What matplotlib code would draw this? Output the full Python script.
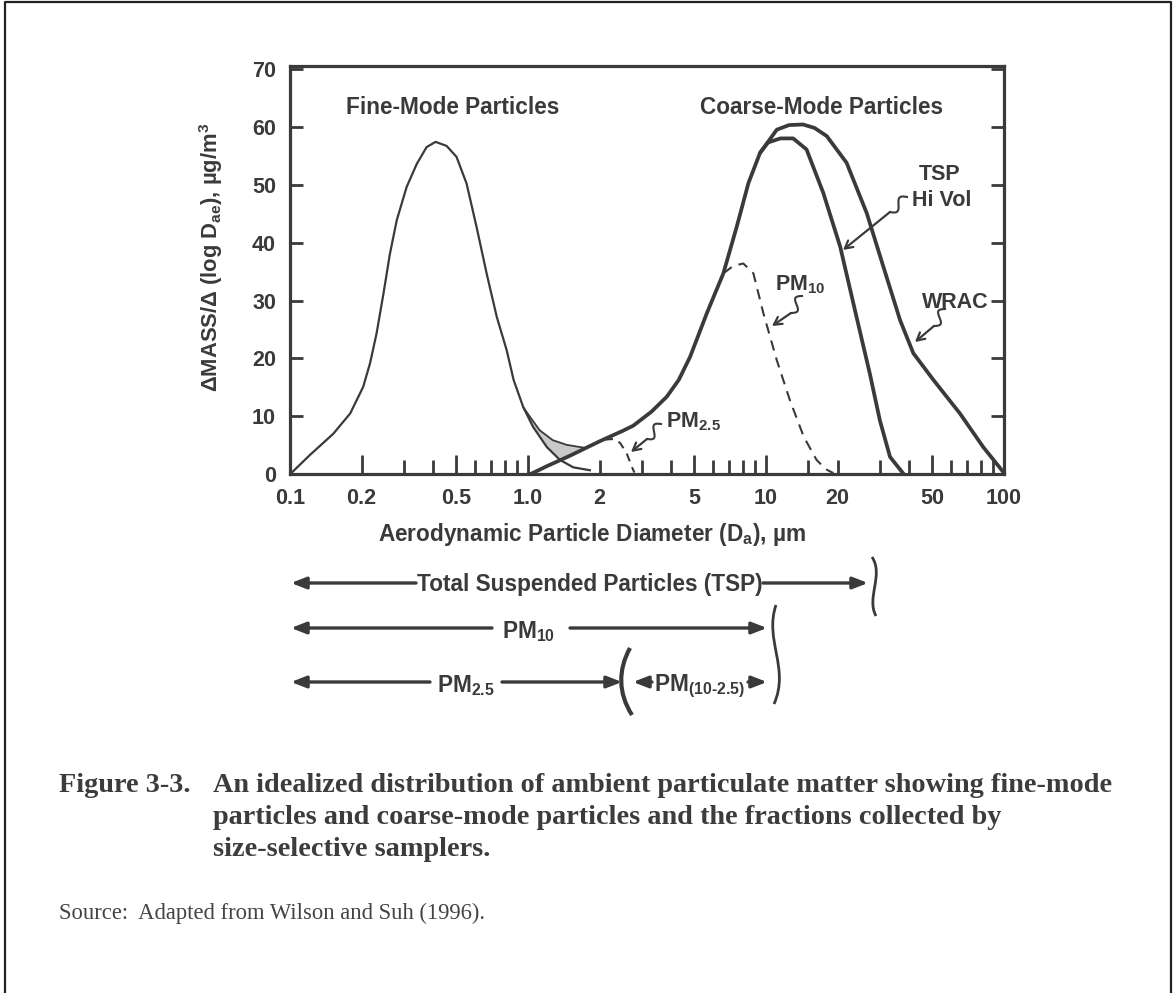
import numpy as np
import matplotlib
matplotlib.use('Agg')
import matplotlib.pyplot as plt
from matplotlib.path import Path
from matplotlib.patches import PathPatch

plt.rcParams['font.family'] = ['Liberation Sans', 'DejaVu Sans']
plt.rcParams['mathtext.fontset'] = 'custom'
plt.rcParams['mathtext.rm'] = 'Liberation Sans'
plt.rcParams['mathtext.bf'] = 'Liberation Sans:bold'
plt.rcParams['mathtext.it'] = 'Liberation Sans:italic'

# ---------------- data ----------------
fine_d = [0.1, 0.121, 0.152, 0.179, 0.203, 0.217, 0.231, 0.247, 0.263, 0.281, 0.309,
          0.341, 0.375, 0.409, 0.455, 0.501, 0.552, 0.608, 0.670, 0.739, 0.814,
          0.87, 0.955, 1.05, 1.20, 1.36, 1.55, 1.82]
fine_m = [0.0, 3.3, 7.0, 10.5, 15.1, 19.2, 24.3, 31.2, 38.1, 43.9, 49.6,
          53.6, 56.5, 57.4, 56.7, 54.8, 50.2, 42.7, 34.7, 27.2, 21.4,
          16.3, 11.6, 8.2, 4.7, 2.5, 1.2, 0.7]

coarse_d = [1.02, 1.2, 1.5, 2.0, 2.5, 2.77, 3.3, 3.83, 4.3, 4.8, 5.64, 6.62,
            7.54, 8.44, 9.44, 10.2]
coarse_m = [0.0, 1.4, 3.2, 5.7, 7.5, 8.4, 10.8, 13.4, 16.3, 20.3, 27.8, 34.7,
            42.8, 50.3, 55.5, 57.3]

hivol_d = [10.2, 11.5, 13.0, 14.8, 17.4, 20.5, 24.0, 27.3, 30.1, 33.2, 37.8]
hivol_m = [57.3, 58.0, 58.0, 56.1, 48.6, 39.3, 27.2, 17.4, 9.3, 3.0, 0.1]

wrac_d = [9.44, 11.1, 12.5, 14.3, 16.0, 18.0, 21.8, 26.5, 31.1, 36.6, 41.6,
          50.5, 65.3, 81.8, 99.3]
wrac_m = [55.5, 59.5, 60.3, 60.4, 59.8, 58.4, 53.8, 45.1, 35.9, 26.6, 20.9,
          16.3, 10.5, 4.7, 0.4]

pm10_d = [6.62, 7.3, 8.03, 8.85, 9.75, 11.1, 12.6, 14.4, 16.3, 17.8, 19.2]
pm10_m = [34.7, 36.0, 36.4, 34.7, 27.8, 19.7, 12.8, 6.5, 2.5, 0.9, 0.2]

pm25_d = [2.1, 2.3, 2.44, 2.6, 2.73, 2.8]
pm25_m = [6.0, 6.1, 5.4, 3.6, 1.3, 0.3]

overlap_d = [0.955, 1.02, 1.12, 1.27, 1.45, 1.6, 1.75]
overlap_m = [11.6, 9.9, 7.6, 5.9, 5.1, 4.8, 4.55]

xtick_vals = [0.1, 0.2, 0.5, 1.0, 2, 5, 10, 20, 50, 100]
xtick_labels = ['0.1', '0.2', '0.5', '1.0', '2', '5', '10', '20', '50', '100']
xtick_long = [0.2, 0.5, 1.0, 5, 10, 50]
xminor_vals = [0.3, 0.4, 0.6, 0.7, 0.8, 0.9, 3, 4, 6, 7, 8, 9, 15, 30, 40,
               60, 70, 80, 90]
ytick_vals = [0, 10, 20, 30, 40, 50, 60, 70]

# ---------------- figure ----------------
W, H = 1174, 993
fig = plt.figure(figsize=(W / 100, H / 100), dpi=100)
fig.patch.set_facecolor('white')

INK = '#3a3a3a'
ax_l, ax_r, ax_t, ax_b = 290, 1004, 66, 474.3
ax = fig.add_axes([ax_l / W, 1 - ax_b / H, (ax_r - ax_l) / W, (ax_b - ax_t) / H])
ax.set_xscale('log')
ax.set_xlim(0.1, 100)
ax.set_ylim(0, 70.5)

for s in ax.spines.values():
    s.set_linewidth(2.3)
    s.set_color(INK)

# shaded overlap region
g = np.logspace(np.log10(overlap_d[0]), np.log10(overlap_d[-1]), 200)
lg = np.log10(g)
upper = np.interp(lg, np.log10(overlap_d), overlap_m)
lower = np.maximum(np.interp(lg, np.log10(fine_d), fine_m),
                   np.interp(lg, np.log10(coarse_d), coarse_m, left=0))
ax.fill_between(g, lower, np.maximum(upper, lower), color='#c9c9c9', lw=0, zorder=1)
ax.plot(overlap_d, overlap_m, color=INK, lw=1.3, zorder=2)

ax.plot(fine_d, fine_m, color=INK, lw=1.6, zorder=3, solid_joinstyle='round')
for xs, ys in [(coarse_d, coarse_m), (hivol_d, hivol_m), (wrac_d, wrac_m)]:
    ax.plot(xs, ys, color=INK, lw=2.7, zorder=3, solid_joinstyle='round',
            solid_capstyle='round')
ax.plot(pm10_d, pm10_m, color=INK, lw=1.5, ls=(0, (5, 3.5)), zorder=3)
ax.plot(pm25_d, pm25_m, color=INK, lw=1.5, ls=(0, (4, 3)), zorder=3)

# ticks
ax.set_xticks(xtick_vals)
ax.set_xticklabels(xtick_labels)
ax.set_xticks(xminor_vals, minor=True)
ax.xaxis.set_minor_formatter(matplotlib.ticker.NullFormatter())
ax.set_yticks(ytick_vals)
ax.tick_params(axis='x', which='both', direction='in', top=False, bottom=True,
               width=2.0, color=INK, pad=10)
ax.tick_params(axis='x', which='major', length=10)
ax.tick_params(axis='x', which='minor', length=10)
for v, t in zip(xtick_vals, ax.xaxis.get_major_ticks()):
    t.tick1line.set_markersize(14 if v in xtick_long else 10)
ax.tick_params(axis='y', which='both', direction='in', left=True, right=True,
               length=9.5, width=2.0, color=INK, pad=10)
for lab in ax.get_xticklabels() + ax.get_yticklabels():
    lab.set_fontweight('bold')
    lab.set_fontsize(15.5)
    lab.set_color(INK)

# ---------------- overlay in pixel coordinates ----------------
ov = fig.add_axes([0, 0, 1, 1], zorder=10)
ov.set_xlim(0, W)
ov.set_ylim(H, 0)
ov.axis('off')
ov.patch.set_alpha(0)

ov.plot([5, 5, W - 3, W - 3], [H, 2, 2, H], color='#222222', lw=1.6)

def txt(x, y, s, size=16, **kw):
    kw.setdefault('ha', 'center')
    kw.setdefault('va', 'center')
    kw.setdefault('fontweight', 'bold')
    kw.setdefault('color', INK)
    ov.text(x, y, s, fontsize=size, **kw)

txt(453, 107, 'Fine-Mode Particles', size=16.3)
txt(822, 108, 'Coarse-Mode Particles', size=16.3)
txt(940, 175, 'TSP', size=15.5)
txt(942, 200, 'Hi Vol', size=15.5)
txt(955, 303, 'WRAC', size=15.5)
txt(800, 285, r'PM$_{\mathbf{10}}$', size=15.5)
txt(693, 422, r'PM$_{\mathbf{2.5}}$', size=15.5)

txt(211, 257, r'$\mathbf{\Delta}$MASS/$\mathbf{\Delta}$ (log D$_{\mathbf{ae}}$), µg/m$^{\mathbf{3}}$',
    size=15.8, rotation=90)
txt(592, 535, r'Aerodynamic Particle Diameter (D$_{\mathbf{a}}$), µm', size=16.3)

def squiggle(p0, p1, target):
    p0 = np.array(p0, float); p1 = np.array(p1, float)
    t = np.linspace(0, 1, 40)
    d = p1 - p0
    n = np.array([-d[1], d[0]]) / np.hypot(*d)
    pts = p0 + np.outer(t, d) + np.outer(4.5 * np.sin(2 * np.pi * t), n)
    ov.plot(pts[:, 0], pts[:, 1], color=INK, lw=1.5)
    ov.annotate('', xy=target, xytext=tuple(p1),
                arrowprops=dict(arrowstyle='->,head_length=0.55,head_width=0.3',
                                color=INK, lw=1.6, shrinkA=0, shrinkB=0))

squiggle((661, 424), (647, 439), (631, 452))
squiggle((802, 296), (791, 313), (772, 326))
squiggle((907, 197), (890, 212), (843, 250))
squiggle((945, 309), (934, 326), (915, 342))

def harrow(x0, x1, y):
    ov.annotate('', xy=(x1, y), xytext=(x0, y),
                arrowprops=dict(arrowstyle='-|>,head_length=0.9,head_width=0.35',
                                color=INK, lw=2.4, shrinkA=0, shrinkB=0))

def bracket(verts, lw=2.0):
    codes = [Path.MOVETO] + [Path.CURVE4] * (len(verts) - 1)
    ov.add_patch(PathPatch(Path(verts, codes), fill=False, ec=INK, lw=lw))

# TSP row
harrow(416, 291, 583)
txt(590, 585, 'Total Suspended Particles (TSP)', size=16.3)
harrow(763, 868, 583)
bracket([(872, 557), (884, 575), (866, 598), (876, 616)])
# PM10 row
harrow(492, 291, 628)
txt(529, 632, r'PM$_{\mathbf{10}}$', size=16.3)
harrow(570, 767, 628)
bracket([(776, 605), (764, 640), (790, 668), (774, 704)])
# PM2.5 row
harrow(430, 291, 682)
txt(466, 686, r'PM$_{\mathbf{2.5}}$', size=16.3)
harrow(502, 622, 682)
bracket([(630, 648), (618, 670), (618, 693), (632, 715)], lw=3.0)
harrow(652, 633, 682)
txt(699, 686, r'PM$_{\mathbf{(10‐2.5)}}$', size=16.3)
harrow(748, 767, 682)

# caption
serif = ['Liberation Serif', 'DejaVu Serif']
CAP = '#3c3c3c'
ov.text(59, 785, 'Figure 3-3.', fontsize=20.3, fontweight='bold', family=serif,
        color=CAP, va='center', ha='left')
for y, s in [(785, 'An idealized distribution of ambient particulate matter showing fine-mode'),
             (818, 'particles and coarse-mode particles and the fractions collected by'),
             (850, 'size-selective samplers.')]:
    ov.text(213, y, s, fontsize=20.3, fontweight='bold', family=serif,
            color=CAP, va='center', ha='left')
ov.text(59, 913, 'Source:  Adapted from Wilson and Suh (1996).', fontsize=16.3,
        family=serif, color='#444444', va='center', ha='left')

fig.savefig('out.png', dpi=100, facecolor='white')
